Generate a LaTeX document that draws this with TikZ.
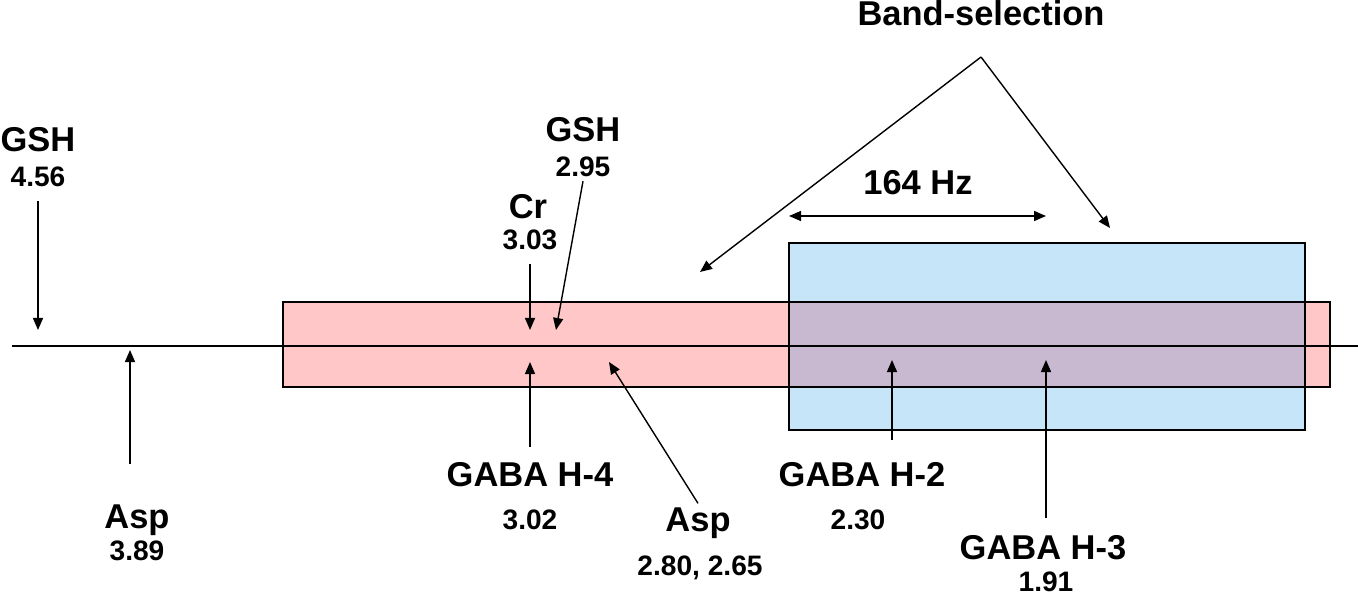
\documentclass[tikz,border=0pt]{standalone}
\usepackage{fontspec}
\setmainfont{Liberation Sans}
\usetikzlibrary{arrows.meta}

\definecolor{bandpink}{RGB}{255,199,199}
\definecolor{bandblue}{RGB}{198,229,248}
\definecolor{bandmix}{RGB}{200,185,208}

\tikzset{
    metab/.style={font=\fontsize{9.8}{11}\selectfont\bfseries, inner sep=1pt},
    ppm/.style={font=\fontsize{8}{9}\selectfont\bfseries, inner sep=1pt},
    ptr/.style={thin, -{Triangle[length=1.2mm,width=1mm]}},
}

\begin{document}
\begin{tikzpicture}[x=0.01cm, y=-0.01cm]
    \useasboundingbox (0,0) rectangle (1358,594);

    % Draw selection bands
    \fill[bandpink] (283,302) rectangle (1330,387);
    \fill[bandblue] (789,243) rectangle (1305,430);
    \fill[bandmix] (789,302) rectangle (1305,387); % overlap of both bands
    \draw[thin] (283,302) rectangle (1330,387);
    \draw[thin] (789,243) rectangle (1305,430);

    % Draw spectrum axis
    \coordinate (axisL) at (12,346);
    \coordinate (axisR) at (1358,346);
    \draw[thin] (axisL) -- (axisR);

    % Draw labels
    \node[metab] (gsh1) at (38,140) {GSH};
    \node[ppm] (gsh1ppm) at (38,177) {4.56};
    \node[metab] (asp1) at (137,520) {Asp};
    \node[ppm] (asp1ppm) at (137,551) {3.89};
    \node[metab] (cr) at (528,207) {Cr};
    \node[ppm] (crppm) at (530,240) {3.03};
    \node[metab] (gsh2) at (583,130) {GSH};
    \node[ppm] (gsh2ppm) at (583,167) {2.95};
    \node[metab] (h4) at (530,475) {GABA H-4};
    \node[ppm] (h4ppm) at (530,520) {3.02};
    \node[metab] (asp2) at (698,523) {Asp};
    \node[ppm] (asp2ppm) at (700,568) {2.80, 2.65};
    \node[metab] (h2) at (862,475) {GABA H-2};
    \node[ppm] (h2ppm) at (858,520) {2.30};
    \node[metab] (h3) at (1043,548) {GABA H-3};
    \node[ppm] (h3ppm) at (1046,582) {1.91};
    \node[metab] (band) at (981,13) {Band-selection};
    \node[metab] (hz) at (918,183) {164 Hz};

    % Arrow tips on the spectrum
    \coordinate (gsh1tip) at (38,330);
    \coordinate (asp1tip) at (130,350);
    \coordinate (crtip) at (530,330);
    \coordinate (gsh2tip) at (556,330);
    \coordinate (h4tip) at (530,362);
    \coordinate (asp2tip) at (609,362);
    \coordinate (h2tip) at (892,360);
    \coordinate (h3tip) at (1046,360);
    \coordinate (apex) at (981,57);
    \coordinate (bandL) at (700,272);
    \coordinate (bandR) at (1110,228);
    \coordinate (hzL) at (789,216);
    \coordinate (hzR) at (1046,216);

    % Draw peak arrows
    \draw[ptr, shorten <=1mm] (gsh1ppm.south) -- (gsh1tip);
    \draw[ptr, shorten <=3.6mm] (asp1.north -| asp1tip) -- (asp1tip);
    \draw[ptr, shorten <=1mm] (crppm.south) -- (crtip);
    \draw[ptr] (gsh2ppm.south) -- (gsh2tip);
    \draw[ptr, shorten <=1.2mm] (h4.north) -- (h4tip);
    \draw[ptr] (asp2.north) -- (asp2tip);
    \draw[ptr, shorten <=1.9mm] (h2.north -| h2tip) -- (h2tip);
    \draw[ptr, shorten <=1.4mm] (h3.north -| h3tip) -- (h3tip);

    % Draw band arrows
    \draw[ptr] (apex) -- (bandL);
    \draw[ptr] (apex) -- (bandR);
    \draw[thin, {Triangle[length=1.2mm,width=1mm]}-{Triangle[length=1.2mm,width=1mm]}] (hzL) -- (hzR);
\end{tikzpicture}
\end{document}
